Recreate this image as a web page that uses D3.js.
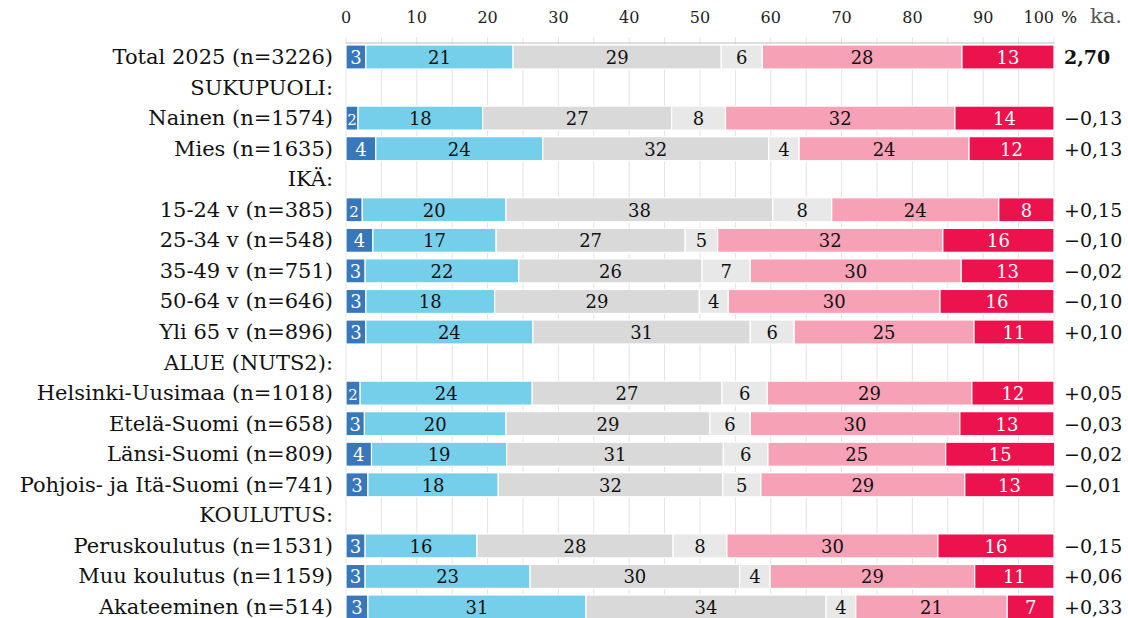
<!DOCTYPE html>
<html><head><meta charset="utf-8">
<script src="https://cdn.jsdelivr.net/npm/d3@7"></script>
<style>
html,body{margin:0;padding:0;background:#fff;}
svg{display:block;}
</style></head>
<body>
<svg id="chart" width="1128" height="618"></svg>
<script>
const rows = ["Total 2025 (n=3226)","SUKUPUOLI:","Nainen (n=1574)","Mies (n=1635)","IKÄ:","15-24 v (n=385)","25-34 v (n=548)","35-49 v (n=751)","50-64 v (n=646)","Yli 65 v (n=896)","ALUE (NUTS2):","Helsinki-Uusimaa (n=1018)","Etelä-Suomi (n=658)","Länsi-Suomi (n=809)","Pohjois- ja Itä-Suomi (n=741)","KOULUTUS:","Peruskoulutus (n=1531)","Muu koulutus (n=1159)","Akateeminen (n=514)"];
const seriesNames = ["s1","s2","s3","s4","s5","s6"];
const s1 = [2.8,null,1.7,4.2,null,2.3,3.8,2.7,2.8,2.8,null,2.0,2.6,3.6,3.1,null,2.7,2.7,3.1];
const s2 = [20.8,null,17.6,23.6,null,20.3,17.4,21.7,18.2,23.6,null,24.3,20.0,19.1,18.4,null,15.8,23.3,30.8];
const s3 = [29.4,null,26.7,31.9,null,37.7,26.7,25.9,28.9,30.7,null,26.8,28.8,30.6,31.7,null,27.7,29.6,33.9];
const s4 = [5.8,null,7.6,4.3,null,8.3,4.6,6.8,4.1,6.2,null,6.4,5.7,6.3,5.4,null,7.6,4.3,4.2];
const s5 = [28.2,null,32.4,24.0,null,23.6,31.8,29.8,29.9,25.4,null,28.9,29.6,25.1,28.8,null,29.8,28.9,21.4];
const s6 = [13.0,null,14.0,12.0,null,7.8,15.7,13.1,16.1,11.3,null,11.6,13.3,15.4,12.6,null,16.4,11.2,6.6];
const means = ["2,70",null,"−0,13","+0,13",null,"+0,15","−0,10","−0,02","−0,10","+0,10",null,"+0,05","−0,03","−0,02","−0,01",null,"−0,15","+0,06","+0,33"];
const xTicks = [0,10,20,30,40,50,60,70,80,90,100];
const gridTicks = d3.range(0,101,5);

const colors = ["#3777ba","#76cfea","#d9d9d9","#e8e8e8","#f7a1b6","#eb124d"];
const textColors = ["#fff","#111","#111","#111","#111","#fff"];
const FONT = "'DejaVu Serif', serif";

const svg = d3.select("#chart");
const x = d3.scaleLinear().domain([0,100]).range([346,1054]);
const y = d3.scalePoint().domain(rows).range([57,607]);
const barH = 24;

// gridlines
svg.append("g").selectAll("line").data(gridTicks).join("line")
  .attr("x1",d=>x(d)).attr("x2",d=>x(d)).attr("y1",37).attr("y2",618)
  .attr("stroke","#e3e3e3").attr("stroke-width",1);
// axis line
svg.append("line").attr("x1",x(0)).attr("x2",x(100)).attr("y1",43).attr("y2",43).attr("stroke","#bdbdbd");
// tick labels
svg.append("g").selectAll("text").data(xTicks).join("text")
  .attr("x",d=>d===100?x(d):x(d)).attr("y",23).attr("text-anchor",d=>d===100?"end":"middle")
  .attr("font-family",FONT).attr("font-size",16).attr("fill","#222").text(d=>d);
svg.append("text").attr("x",1061).attr("y",23).attr("font-family",FONT).attr("font-size",17).attr("fill","#222").text("%");
svg.append("text").attr("x",1090).attr("y",23).attr("font-family",FONT).attr("font-size",21).attr("fill","#555").text("ka.");

// stack
const table = rows.map((r,i)=>({row:r,s1:s1[i]||0,s2:s2[i]||0,s3:s3[i]||0,s4:s4[i]||0,s5:s5[i]||0,s6:s6[i]||0,has:s1[i]!==null}));
const stacked = d3.stack().keys(seriesNames)(table);

const gBars = svg.append("g");
stacked.forEach((layer,k)=>{
  const g = gBars.append("g");
  const segs = layer.filter(d=>d.data.has);
  g.selectAll("rect").data(segs).join("rect")
    .attr("x",d=>x(d[0])).attr("width",d=>x(d[1])-x(d[0]))
    .attr("y",d=>y(d.data.row)-barH/2).attr("height",barH)
    .attr("fill",colors[k]).attr("stroke","#fff").attr("stroke-width",1.2);
  g.selectAll("text").data(segs).join("text")
    .attr("x",d=>(x(d[0])+x(d[1]))/2).attr("y",d=>y(d.data.row)+7)
    .attr("text-anchor","middle").attr("font-family",FONT).attr("font-size",d=>(x(d[1])-x(d[0]))<18?15:18)
    .attr("fill",textColors[k]).text(d=>Math.round(d[1]-d[0]));
});

// row labels
svg.append("g").selectAll("text").data(rows).join("text")
  .attr("x",333).attr("y",d=>y(d)+7).attr("text-anchor","end")
  .attr("font-family",FONT).attr("font-size",21).attr("fill","#111").text(d=>d);

// means
svg.append("g").selectAll("text").data(rows.map((r,i)=>({r,m:means[i],i})).filter(d=>d.m)).join("text")
  .attr("x",1064).attr("y",d=>y(d.r)+7)
  .attr("font-family",FONT).attr("font-size",19).attr("font-weight",d=>d.i===0?"bold":"normal")
  .attr("fill","#111").text(d=>d.m);
</script>
</body></html>
